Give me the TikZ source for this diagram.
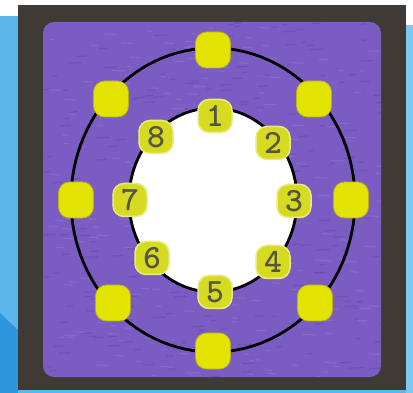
\documentclass[tikz,border=0pt]{standalone}
\begin{document}
\begin{tikzpicture}[x=1pt,y=-1pt,
  outerbox/.style={draw=yellowedge,line width=0.8pt,fill=dotyellow,rounded corners=11pt,minimum width=35pt,minimum height=36pt,inner sep=0pt},
  numbox/.style={draw=numedge,line width=1.5pt,fill=numyellow,rounded corners=11pt,minimum width=34pt,minimum height=33pt,inner sep=0pt,
     font=\fontsize{34}{34}\selectfont\ttfamily\bfseries,text=numgray}]
\definecolor{lightblue}{HTML}{5CB6EC}
\definecolor{darkblue}{HTML}{2C97DC}
\definecolor{rightblue}{HTML}{7CCAF2}
\definecolor{framec}{HTML}{3F3A36}
\definecolor{purplec}{HTML}{7A5CC2}
\definecolor{purplelight}{HTML}{8E72D0}
\definecolor{purpledark}{HTML}{6548AE}
\definecolor{dotyellow}{HTML}{E2E400}
\definecolor{yellowedge}{HTML}{B8B020}
\definecolor{numyellow}{HTML}{D6DA20}
\definecolor{numedge}{HTML}{E8EC80}
\definecolor{numgray}{HTML}{55553F}
\useasboundingbox (0,0) rectangle (413,393);
% background
\fill[white] (0,0) rectangle (413,393);
\fill[lightblue] (0,16) rectangle (18,393);
\fill[darkblue] (0,313) -- (18,330) -- (18,393) -- (0,393) -- cycle;
\fill[rightblue] (406,25) rectangle (413,393);
\fill[lightblue] (18,390) rectangle (406,393);
% frame and purple panel
\fill[framec] (18,5) rectangle (406,390);
\fill[purplec,rounded corners=11pt] (43,22) rectangle (381,377);
\begin{scope}
  \clip[rounded corners=11pt] (43,22) rectangle (381,377);
  \pgfmathsetseed{7}
  \foreach \i in {1,...,500}{
    \pgfmathsetmacro{\px}{43+338*rnd}
    \pgfmathsetmacro{\py}{22+355*rnd}
    \pgfmathsetmacro{\pl}{4+10*rnd}
    \pgfmathsetmacro{\pc}{rnd}
    \ifdim\pc pt<0.5pt
      \draw[purplelight,line width=1.2pt,opacity=0.6] (\px,\py) -- ++(\pl,0.6);
    \else
      \draw[purpledark,line width=1.2pt,opacity=0.5] (\px,\py) -- ++(\pl,-0.6);
    \fi
  }
\end{scope}
% ellipses
\draw[black,line width=2.8pt] (213,200) ellipse [x radius=142, y radius=152];
\fill[white] (213,200) ellipse [x radius=84, y radius=92];
\draw[black,line width=2.8pt] (213,200) ellipse [x radius=84, y radius=92];
% outer yellow boxes
\node[outerbox] (o1) at (213,50) {};
\node[outerbox] (o2) at (314,99) {};
\node[outerbox] (o3) at (351,200) {};
\node[outerbox] (o4) at (315,303) {};
\node[outerbox] (o5) at (213,351) {};
\node[outerbox] (o6) at (113,303) {};
\node[outerbox] (o7) at (76,200) {};
\node[outerbox] (o8) at (111,99) {};
% numbered boxes
\node[numbox] (n1) at (215,116) {1};
\node[numbox] (n2) at (273,143) {2};
\node[numbox] (n3) at (294,201) {3};
\node[numbox] (n4) at (273,262) {4};
\node[numbox] (n5) at (215,292) {5};
\node[numbox] (n6) at (152,258) {6};
\node[numbox] (n7) at (130,200) {7};
\node[numbox] (n8) at (156,137) {8};
\end{tikzpicture}
\end{document}
